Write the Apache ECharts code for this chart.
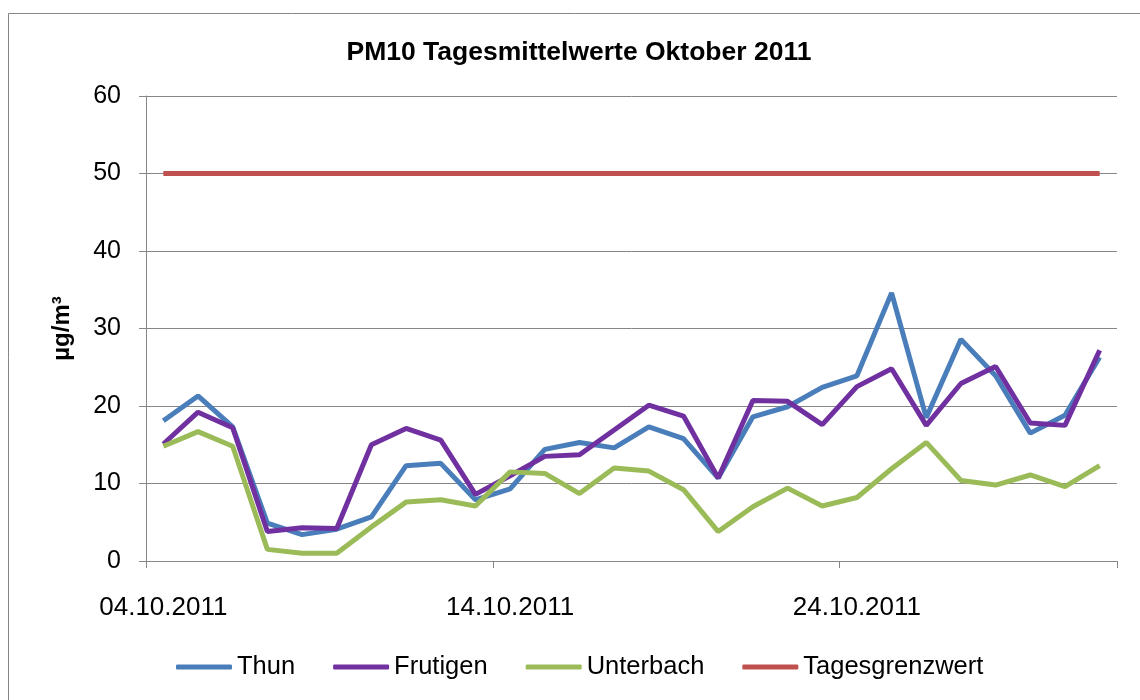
<!DOCTYPE html>
<html>
<head>
<meta charset="utf-8">
<script src="https://cdn.jsdelivr.net/npm/echarts@6/dist/echarts.min.js"></script>
<style>html,body{margin:0;padding:0;background:#fff}#c{width:1140px;height:700px}</style>
</head>
<body>
<div id="c"></div>
<script>
const dates = ['04.10.2011','05.10.2011','06.10.2011','07.10.2011','08.10.2011','09.10.2011','10.10.2011',
  '11.10.2011','12.10.2011','13.10.2011','14.10.2011','15.10.2011','16.10.2011','17.10.2011',
  '18.10.2011','19.10.2011','20.10.2011','21.10.2011','22.10.2011','23.10.2011','24.10.2011',
  '25.10.2011','26.10.2011','27.10.2011','28.10.2011','29.10.2011','30.10.2011','31.10.2011'];
const thun = [18.1, 21.3, 17.3, 4.9, 3.4, 4.1, 5.7, 12.3, 12.6, 7.9, 9.3, 14.4, 15.3, 14.6,
  17.3, 15.8, 10.7, 18.6, 19.9, 22.4, 23.9, 34.6, 18.5, 28.6, 23.9, 16.5, 18.8, 26.3];
const frutigen = [15.1, 19.2, 17.2, 3.8, 4.3, 4.2, 15.0, 17.1, 15.6, 8.6, 11.0, 13.5, 13.7, 16.9,
  20.1, 18.7, 10.7, 20.7, 20.6, 17.6, 22.5, 24.8, 17.5, 22.9, 25.1, 17.8, 17.5, 27.2];
const unterbach = [14.8, 16.7, 14.8, 1.5, 1.0, 1.0, 4.4, 7.6, 7.9, 7.1, 11.5, 11.3, 8.7, 12.0,
  11.6, 9.2, 3.8, 7.0, 9.4, 7.1, 8.2, 11.9, 15.3, 10.4, 9.8, 11.1, 9.6, 12.3];
const grenzwert = [50, 50, 50, 50, 50, 50, 50, 50, 50, 50, 50, 50, 50, 50,
  50, 50, 50, 50, 50, 50, 50, 50, 50, 50, 50, 50, 50, 50];
const yTicks = [0, 10, 20, 30, 40, 50, 60];

const font = 'Liberation Sans, Arial, sans-serif';
const mk = (name, arr, color) => ({
  name, type: 'line', data: arr, symbol: 'none', smooth: false,
  lineStyle: { color, width: 5 }, itemStyle: { color }
});

const chart = echarts.init(document.getElementById('c'), null, { renderer: 'canvas' });
chart.setOption({
  animation: false,
  backgroundColor: '#fff',
  textStyle: { fontFamily: font },
  title: {
    text: 'PM10 Tagesmittelwerte Oktober 2011',
    left: 574, top: 34, textAlign: 'center',
    textStyle: { fontFamily: font, fontSize: 26.5, fontWeight: 'bold', color: '#000' }
  },
  graphic: [{
    type: 'rect', shape: { x: 8.5, y: 13.5, width: 1300, height: 900 },
    style: { fill: 'none', stroke: '#868686', lineWidth: 1 }, silent: true
  }],
  legend: {
    left: 171, top: 649, itemWidth: 56, itemHeight: 5, itemGap: 38,
    icon: 'roundRect',
    textStyle: { fontFamily: font, fontSize: 25.5, color: '#000' },
    data: ['Thun', 'Frutigen', 'Unterbach', 'Tagesgrenzwert']
  },
  grid: { left: 146, top: 96, right: 23, bottom: 139, containLabel: false },
  xAxis: {
    type: 'category', data: dates, boundaryGap: true,
    axisLine: { show: true, lineStyle: { color: '#868686', width: 1 } },
    axisTick: { show: true, length: 7, interval: 9, alignWithLabel: false, lineStyle: { color: '#868686' } },
    axisLabel: { interval: 9, fontFamily: font, fontSize: 26, color: '#000', margin: 34 },
    splitLine: { show: false }
  },
  yAxis: {
    type: 'value', min: 0, max: 60, interval: 10,
    name: 'µg/m³', nameLocation: 'middle', nameRotate: 90, nameGap: 72,
    nameTextStyle: { fontFamily: font, fontSize: 24, fontWeight: 'bold', color: '#000' },
    axisLine: { show: true, lineStyle: { color: '#868686', width: 1 } },
    axisTick: { show: true, length: 7, lineStyle: { color: '#868686' } },
    axisLabel: { fontFamily: font, fontSize: 25, color: '#000', margin: 25,
      formatter: v => yTicks.includes(v) ? String(v) : '' },
    splitLine: { show: true, lineStyle: { color: '#868686', width: 1 } }
  },
  series: [
    mk('Thun', thun, '#4A7EBB'),
    mk('Frutigen', frutigen, '#7030A0'),
    mk('Unterbach', unterbach, '#9BBB59'),
    mk('Tagesgrenzwert', grenzwert, '#C0504D')
  ]
});
</script>
</body>
</html>
